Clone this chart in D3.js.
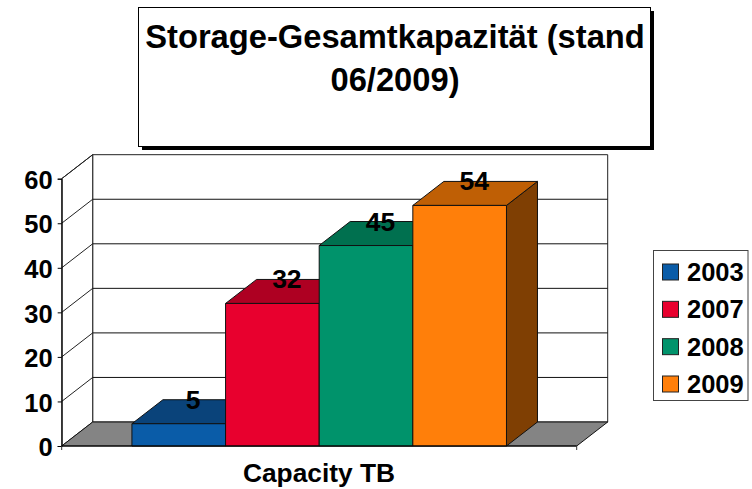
<!DOCTYPE html>
<html><head><meta charset="utf-8">
<script src="https://cdn.jsdelivr.net/npm/d3@7"></script>
<style>html,body{margin:0;padding:0;background:#fff}svg{display:block}text{font-family:"Liberation Sans",Arial,sans-serif;font-weight:bold;fill:#000}</style>
</head><body><svg id="c" width="752" height="489"></svg>
<script>
const titleLines = ["Storage-Gesamtkapazität (stand", "06/2009)"];
const years = ["2003", "2007", "2008", "2009"];
const capacity = [5, 32, 45, 54];
const yTicks = [0, 10, 20, 30, 40, 50, 60];
const category = "Capacity TB";
const faceColors = ["#0A5CA8", "#E8002E", "#00936B", "#FF7F0A"];
const topColors = ["#0A437A", "#AE0022", "#00704F", "#BF5F05"];
const sideColors = ["#052E54", "#740017", "#004A35", "#7F3F03"];

const svg = d3.select("#c");
const depth = {x: 31, y: -24};
const y = d3.scaleLinear().domain([0, 60]).range([446, 178.7]);
const x = d3.scaleBand().domain(years).range([61.7, 576.7]).paddingInner(0).paddingOuter(0.75);
const [x0, x1] = x.range();
const poly = pts => pts.map(p => p.join(",")).join(" ");

// title box
svg.append("rect").attr("x", 142).attr("y", 11).attr("width", 512).attr("height", 139).attr("fill", "#000");
svg.append("rect").attr("x", 138.5).attr("y", 7.5).attr("width", 512).attr("height", 139).attr("fill", "#fff").attr("stroke", "#000").attr("stroke-width", 1);
svg.selectAll(".title").data(titleLines).join("text").attr("class", "title")
  .attr("x", 395).attr("y", (d, i) => 48 + i * 42.5).attr("text-anchor", "middle").attr("font-size", 32.7).text(d => d);

// walls and floor
svg.append("polygon").attr("fill", "#fff").attr("stroke", "#222").attr("stroke-width", 1)
  .attr("points", poly([[x0 + depth.x, y(60) + depth.y], [x1 + depth.x, y(60) + depth.y], [x1 + depth.x, y(0) + depth.y], [x0 + depth.x, y(0) + depth.y]]));
svg.append("polygon").attr("fill", "#fff").attr("stroke", "#222").attr("stroke-width", 1)
  .attr("points", poly([[x0, y(60)], [x0 + depth.x, y(60) + depth.y], [x0 + depth.x, y(0) + depth.y], [x0, y(0)]]));
svg.append("polygon").attr("fill", "#848484").attr("stroke", "#111").attr("stroke-width", 1)
  .attr("points", poly([[x0, y(0)], [x0 + depth.x, y(0) + depth.y], [x1 + depth.x, y(0) + depth.y], [x1, y(0)]]));

// gridlines
svg.selectAll(".grid").data(yTicks.slice(1, -1)).join("line").attr("class", "grid")
  .attr("x1", x0 + depth.x).attr("x2", x1 + depth.x).attr("y1", d => y(d) + depth.y).attr("y2", d => y(d) + depth.y)
  .attr("stroke", "#111").attr("stroke-width", 1);
svg.selectAll(".grid2").data(yTicks.slice(1)).join("line").attr("class", "grid2")
  .attr("x1", x0).attr("x2", x0 + depth.x).attr("y1", d => y(d)).attr("y2", d => y(d) + depth.y)
  .attr("stroke", "#222").attr("stroke-width", 1);

// bars
const rows = years.map((yr, i) => ({yr, v: capacity[i], i}));
const bars = svg.selectAll(".bar").data(rows).join("g").attr("class", "bar")
  .attr("stroke", "#111").attr("stroke-width", 1).attr("stroke-linejoin", "round");
bars.append("polygon").attr("fill", d => sideColors[d.i]).attr("points", d => {
  const r = x(d.yr) + x.bandwidth();
  return poly([[r, y(d.v)], [r + depth.x, y(d.v) + depth.y], [r + depth.x, y(0) + depth.y], [r, y(0)]]);
});
bars.append("polygon").attr("fill", d => topColors[d.i]).attr("points", d => {
  const l = x(d.yr), r = l + x.bandwidth();
  return poly([[l, y(d.v)], [l + depth.x, y(d.v) + depth.y], [r + depth.x, y(d.v) + depth.y], [r, y(d.v)]]);
});
bars.append("rect").attr("fill", d => faceColors[d.i])
  .attr("x", d => x(d.yr)).attr("y", d => y(d.v)).attr("width", x.bandwidth()).attr("height", d => y(0) - y(d.v));

// axes
const axis = svg.append("g").attr("transform", `translate(${x0},0)`)
  .call(d3.axisLeft(y).tickValues(yTicks).tickSize(4).tickPadding(5).tickFormat(d3.format("d")));
axis.selectAll("path,line").attr("stroke", "#000");
axis.attr("font-family", null);
axis.selectAll("text").attr("font-size", 25.5).attr("dy", "0.38em");
svg.append("line").attr("x1", x0).attr("x2", x1).attr("y1", y(0)).attr("y2", y(0)).attr("stroke", "#000");
svg.selectAll(".xt").data([x0, x1]).join("line").attr("class", "xt")
  .attr("x1", d => d).attr("x2", d => d).attr("y1", y(0)).attr("y2", y(0) + 4).attr("stroke", "#333");

// data labels
svg.selectAll(".val").data(rows).join("text").attr("class", "val")
  .attr("x", d => x(d.yr) + x.bandwidth() / 2 + depth.x / 2 - 1)
  .attr("y", d => y(d.v) + depth.y + 9).attr("text-anchor", "middle").attr("font-size", 26.5).text(d => d.v);

svg.append("text").attr("x", 319).attr("y", 481.5).attr("text-anchor", "middle").attr("font-size", 26.3).text(category);

// legend
svg.append("rect").attr("x", 653.5).attr("y", 250.5).attr("width", 94.5).attr("height", 150).attr("fill", "#fff").attr("stroke", "#444");
const legendY = d3.scalePoint().domain(years).range([272, 384]);
const lg = svg.selectAll(".lg").data(rows).join("g").attr("class", "lg");
lg.append("rect").attr("x", 662.5).attr("y", d => legendY(d.yr) - 8).attr("width", 16).attr("height", 16)
  .attr("fill", d => faceColors[d.i]).attr("stroke", "#222");
lg.append("text").attr("x", 687).attr("y", d => legendY(d.yr) + 9).attr("font-size", 25.5).text(d => d.yr);
</script></body></html>
